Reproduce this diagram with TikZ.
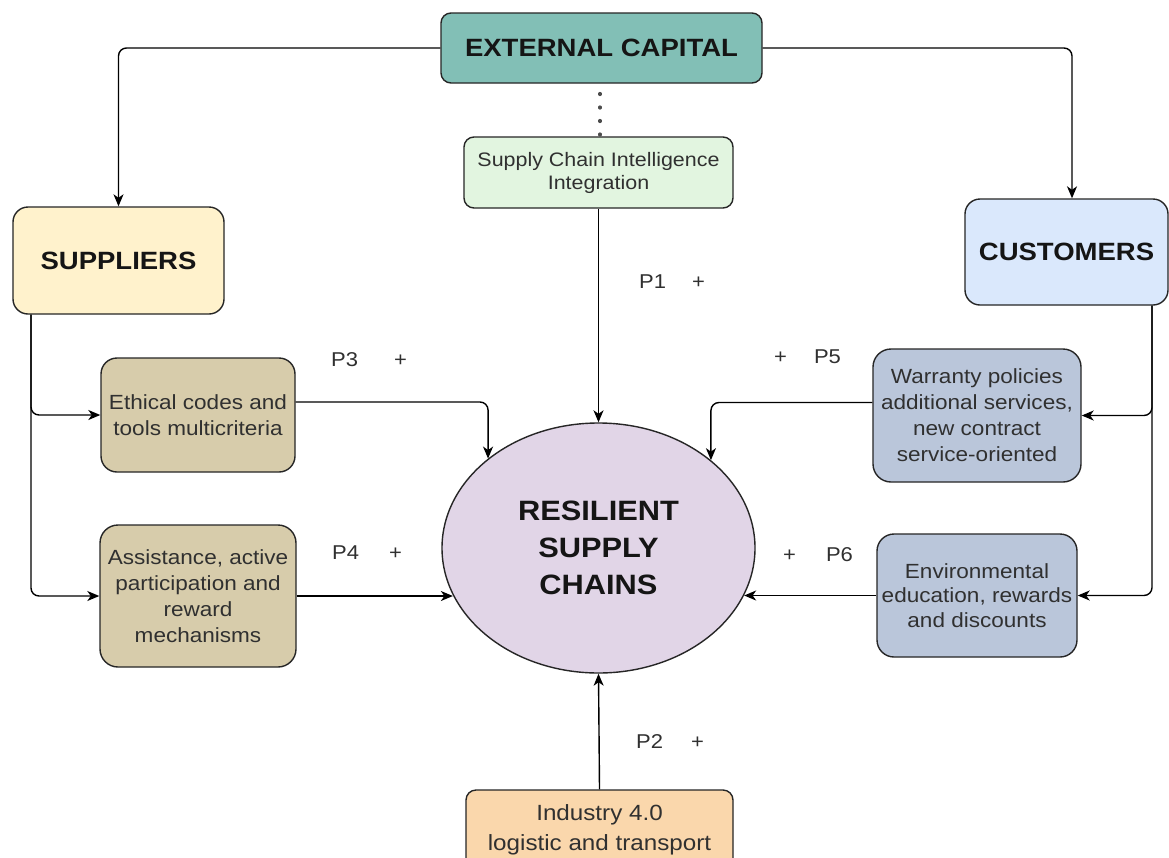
\documentclass[tikz,border=0pt]{standalone}
\usepackage{fontspec}
\setmainfont{Liberation Sans}[FakeStretch=1.1]
\usetikzlibrary{arrows.meta,shapes.geometric}

\definecolor{capfill}{HTML}{82BFB6}
\definecolor{scifill}{HTML}{E2F5E0}
\definecolor{supfill}{HTML}{FFF2CC}
\definecolor{cusfill}{HTML}{DAE8FC}
\definecolor{tanfill}{HTML}{D7CCAB}
\definecolor{bluefill}{HTML}{BAC6DA}
\definecolor{rscfill}{HTML}{E1D5E7}
\definecolor{indfill}{HTML}{FAD7AC}
\definecolor{bodytext}{HTML}{303030}
\definecolor{headtext}{HTML}{151515}

\begin{document}
\begin{tikzpicture}[x=1pt,y=-1pt,
  box/.style={draw=black!85, line width=1.4pt, align=center, inner sep=0pt,
    text=bodytext, font=\fontsize{20.5}{26}\selectfont},
  headbox/.style={box, text=headtext, font=\fontsize{25}{30}\bfseries},
  plabel/.style={inner sep=0pt, anchor=west, text=bodytext,
    font=\fontsize{20}{22}\selectfont},
  link/.style={line width=1.4pt, rounded corners=8pt,
    -{Stealth[length=12pt,width=10pt,inset=3.5pt]}},
  dotline/.style={line width=3.6pt, line cap=round, draw=black!70,
    dash pattern=on 0.6pt off 12.9pt}
]
\useasboundingbox (0,0) rectangle (1169,857);
\fill[white] (0,0) rectangle (1169,857);

% top level
\node[headbox, fill=capfill, minimum width=321pt, minimum height=70pt,
  rounded corners=10pt] (ec) at (601.5,48) {EXTERNAL CAPITAL};
\node[box, fill=scifill, minimum width=269pt, minimum height=71pt,
  rounded corners=10pt, font=\fontsize{19.5}{23}\selectfont] (sci) at (598.5,172.5)
  {Supply Chain Intelligence\\Integration};

% stakeholders
\node[headbox, fill=supfill, minimum width=211pt, minimum height=107pt,
  rounded corners=15pt] (sup) at (118.5,260.5) {SUPPLIERS};
\node[headbox, fill=cusfill, minimum width=203pt, minimum height=106pt,
  rounded corners=15pt] (cus) at (1066.5,252) {CUSTOMERS};

% supplier practices
\node[box, fill=tanfill, minimum width=194pt, minimum height=114pt,
  rounded corners=16pt] (eth) at (198,415) {Ethical codes and\\tools multicriteria};
\node[box, fill=tanfill, minimum width=196pt, minimum height=142pt,
  rounded corners=18pt] (ass) at (198,596)
  {Assistance, active\\participation and\\reward\\mechanisms};

% customer practices
\node[box, fill=bluefill, minimum width=208pt, minimum height=133pt,
  rounded corners=18pt] (war) at (977,415.5)
  {Warranty policies\\additional services,\\new contract\\service-oriented};
\node[box, fill=bluefill, minimum width=200pt, minimum height=123pt,
  rounded corners=17pt, font=\fontsize{20.5}{24.5}\selectfont] (env) at (977,595.5)
  {Environmental\\education, rewards\\and discounts};

% central outcome
\node[ellipse, draw=black!85, line width=1.4pt, fill=rscfill, inner sep=0pt,
  minimum width=313pt, minimum height=250pt, align=center, text=headtext,
  font=\fontsize{28}{37}\bfseries] (rsc) at (598.5,548)
  {RESILIENT\\SUPPLY\\CHAINS};

% technology enabler
\node[box, fill=indfill, minimum width=267pt, minimum height=80pt,
  rounded corners=10pt, font=\fontsize{22}{30}\selectfont] (ind) at (599.5,830)
  {Industry 4.0\\logistic and transport};

% proposition labels
\node[plabel] (p1) at (639,282) {P1\hspace{26pt}+};
\node[plabel] (p2) at (636,742) {P2\hspace{28pt}+};
\node[plabel] (p3) at (331,360) {P3\hspace{36pt}+};
\node[plabel] (p4) at (332,553) {P4\hspace{30pt}+};
\node[plabel] (p5) at (774,357) {+\hspace{27pt}P5};
\node[plabel] (p6) at (783,555) {+\hspace{30pt}P6};

% capital flows
\draw[link] (ec.west) -| (sup.north);
\draw[link] (ec.east) -| ([xshift=5.5pt]cus.north);
\draw[dotline] ([xshift=-1.5pt,yshift=-10pt]ec.south) -- ([xshift=-1.5pt]ec.south |- sci.north);

% vertical drivers
\draw[link] (sci.south) -- (rsc.north);
\draw[link] (ind.north) -- (rsc.south);

% supplier branch
\coordinate (suptap) at ([xshift=-87.5pt]sup.south);
\draw[link] (suptap) |- (ass.west);
\draw[link] (suptap) |- (eth.west);
\draw[link] ([yshift=13pt]eth.east) -| (rsc.141.8);
\draw[link] (ass.east) -- (ass.east -| rsc.198.8);

% customer branch
\coordinate (custap) at ([xshift=85.5pt]cus.south);
\draw[link] (custap) |- (env.east);
\draw[link] (custap) |- (war.east);
\draw[link] ([yshift=13pt]war.west) -| (rsc.38.2);
\draw[link] (env.west) -- (env.west -| rsc.-18.8);
\end{tikzpicture}
\end{document}
